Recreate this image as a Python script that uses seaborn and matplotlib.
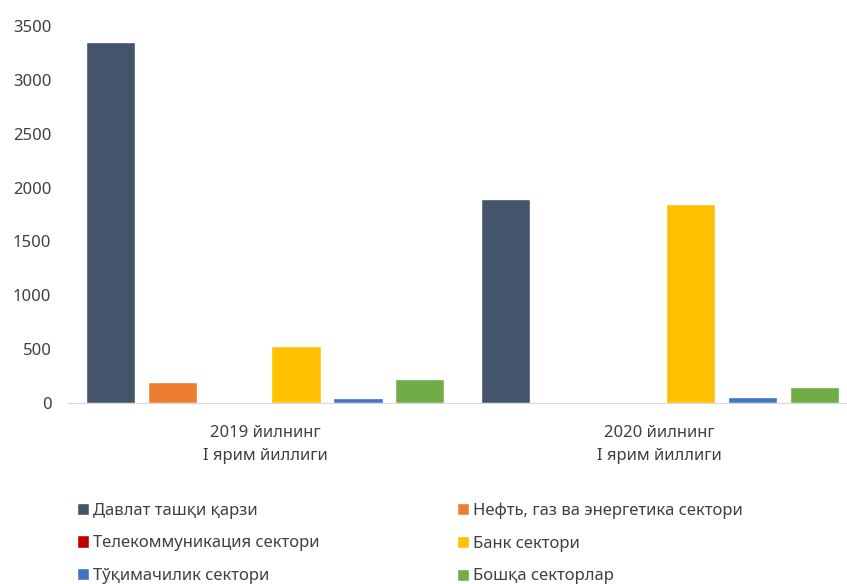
import pandas as pd
import seaborn as sns
import matplotlib.pyplot as plt

# chart data
periods = ["2019 йилнинг\nI ярим йиллиги", "2020 йилнинг\nI ярим йиллиги"]
sectors = ["Давлат ташқи қарзи", "Нефть, газ ва энергетика сектори",
           "Телекоммуникация сектори", "Банк сектори",
           "Тўқимачилик сектори", "Бошқа секторлар"]
debt_2019 = [3350, 195, 0, 527, 42, 220]
debt_2020 = [1890, 0, 0, 1845, 60, 152]
colors = ["#44546A", "#ED7D31", "#C00000", "#FFC000", "#4472C4", "#70AD47"]

rows = []
for period, vals in zip(periods, [debt_2019, debt_2020]):
    for s, v in zip(sectors, vals):
        rows.append({"period": period, "sector": s, "value": v})
df = pd.DataFrame(rows)

sns.set_style("white")
plt.rcParams['font.family'] = ['Noto Sans', 'DejaVu Sans']

fig = plt.figure(figsize=(8.47, 5.84), dpi=100)
ax = fig.add_axes([68 / 847, 1 - 403 / 584, (857 - 68) / 847, (403 - 26) / 584])

sns.barplot(data=df, x="period", y="value", hue="sector", hue_order=sectors,
            palette=colors, width=0.94, gap=0.2, saturation=1, ax=ax)

ax.set_ylim(0, 3500)
ax.set_yticks(range(0, 3501, 500))
ax.set_xlabel("")
ax.set_ylabel("")
for side in ["top", "right", "left"]:
    ax.spines[side].set_visible(False)
ax.spines["bottom"].set_color("#D9D9D9")
ax.tick_params(axis="both", length=0, labelsize=12, colors="#404040")
ax.tick_params(axis="y", pad=12)
ax.tick_params(axis="x", pad=16)
for t in ax.get_xticklabels():
    t.set_linespacing(1.55)

handles, labels = ax.get_legend_handles_labels()
ax.legend_.remove()

# legend in two columns, placed separately
for col, x0 in enumerate([70 / 847, 450 / 847]):
    idx = [col, col + 2, col + 4]
    fig.legend([handles[i] for i in idx], [labels[i] for i in idx],
               loc="upper left", bbox_to_anchor=(x0, 1 - 496 / 584),
               frameon=False, fontsize=12, handlelength=0.75, handleheight=0.75,
               handletextpad=0.25, labelspacing=1.0, borderaxespad=0,
               labelcolor="#404040")

plt.savefig("out.png", dpi=100)
plt.close()
